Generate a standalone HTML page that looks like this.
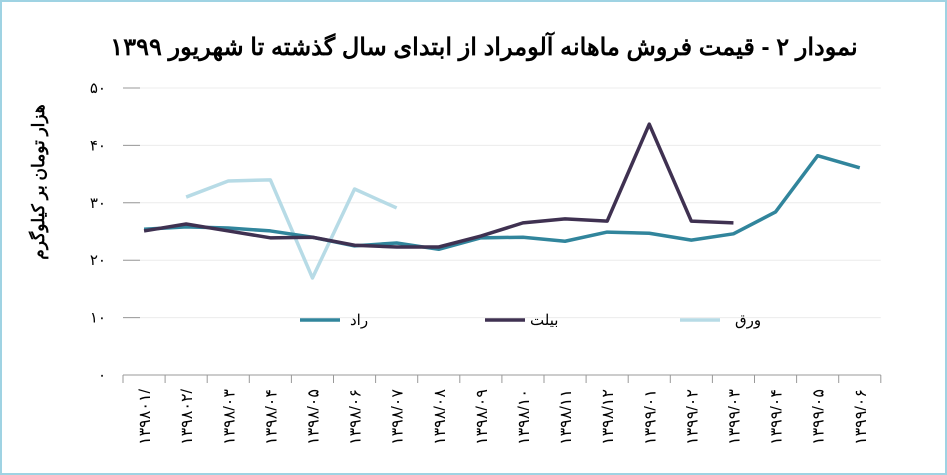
<!DOCTYPE html>
<html><head><meta charset="utf-8"><style>
body{margin:0;background:#fff}
#wrap{position:relative;width:943px;height:471px;border:2px solid #9fd3e3;overflow:hidden;background:#fff}
svg text{font-family:"Liberation Sans","Noto Sans CJK SC",sans-serif}
</style></head><body>
<div id="wrap">
<svg id="c" width="943" height="471">
<text x="482" y="53" text-anchor="middle" font-size="24" font-weight="bold" fill="#000" direction="rtl">نمودار ۲ - قیمت فروش ماهانه آلومراد از ابتدای سال گذشته تا شهریور ۱۳۹۹</text>
<text transform="translate(42,180) rotate(-90)" text-anchor="middle" font-size="17" font-weight="bold" direction="rtl">هزار تومان بر کیلوگرم</text>
</svg>
</div>
<script>
const categories=["۱۳۹۸۰۱/","۱۳۹۸۰۲/","۱۳۹۸/۰۳","۱۳۹۸/۰۴","۱۳۹۸/۰۵","۱۳۹۸/۰۶","۱۳۹۸/۰۷","۱۳۹۸/۰۸","۱۳۹۸/۰۹","۱۳۹۸/۱۰","۱۳۹۸/۱۱","۱۳۹۸/۱۲","۱۳۹۹/۰۱","۱۳۹۹/۰۲","۱۳۹۹/۰۳","۱۳۹۹/۰۴","۱۳۹۹/۰۵","۱۳۹۹/۰۶"];
const radValues=[25.4,25.8,25.6,25.1,24.0,22.5,23.0,21.9,23.9,24.0,23.3,24.9,24.7,23.5,24.6,28.4,38.2,36.1];
const biletValues=[25.1,26.3,25.1,23.9,24.0,22.6,22.3,22.3,24.2,26.5,27.2,26.8,43.7,26.8,26.5,null,null,null];
const varaqValues=[null,31.0,33.8,34.0,16.9,32.4,29.1,null,null,null,null,null,null,null,null,null,null,null];
const yTicks=[0,10,20,30,40,50];
const yTickLabels=["۰","۱۰","۲۰","۳۰","۴۰","۵۰"];
const seriesNames=["راد","بیلت","ورق"];
const NS="http://www.w3.org/2000/svg";
const svg=document.getElementById('c');
const x0=121,step=42.1,y0=373,ppu=5.74;
const xPos=i=>x0+step*(i+0.5);
const yPos=v=>y0-v*ppu;
function mk(t,a){const e=document.createElementNS(NS,t);for(const k in a)e.setAttribute(k,a[k]);svg.appendChild(e);return e;}
yTicks.forEach((v,i)=>{
 const g=mk('line',{x1:x0,x2:x0+step*categories.length,y1:yPos(v),y2:yPos(v),stroke:v===0?'#999':'#ececec','stroke-width':1});
 
 
 const tk=mk('line',{x1:x0,x2:x0+17,y1:yPos(v),y2:yPos(v),stroke:'#999'});
 
 
 const t=mk('text',{x:104,y:yPos(v)+5,'text-anchor':'end','font-size':15});
 t.textContent=yTickLabels[i];
 
 
});
categories.forEach((c,i)=>{
 const tk=mk('line',{x1:x0+step*i,x2:x0+step*i,y1:y0,y2:y0+8,stroke:'#999'});
 
 
 const t=mk('text',{transform:`translate(${xPos(i)+6},${y0+14}) rotate(-90)`,'text-anchor':'end','font-size':16});
 t.textContent=c;
 
 
});
const lastTk=mk('line',{x1:x0+step*18,x2:x0+step*18,y1:y0,y2:y0+8,stroke:'#999'});


function series(vals,color,name){
 let d='';let pen=false;
 vals.forEach((v,i)=>{if(v==null){pen=false;return;}d+=(pen?'L':'M')+xPos(i)+' '+yPos(v)+' ';pen=true;});
 const p=mk('path',{d:d,fill:'none',stroke:color,'stroke-width':3.5,'stroke-linejoin':'round'});
 
 
}
series(varaqValues,'#b7dbe6','series-varaq');
series(radValues,'#31859c','series-rad');
series(biletValues,'#3f3151','series-bilet');
const legend=[[298,'#31859c',348],[483,'#3f3151',528],[678,'#b7dbe6',733]];
legend.forEach((l,i)=>{
 const ln=mk('line',{x1:l[0],x2:l[0]+40,y1:318,y2:318,stroke:l[1],'stroke-width':3.5});
 
 
 const t=mk('text',{x:l[2],y:323,'font-size':15});
 t.textContent=seriesNames[i];
 
 
});
</script>
</body></html>
